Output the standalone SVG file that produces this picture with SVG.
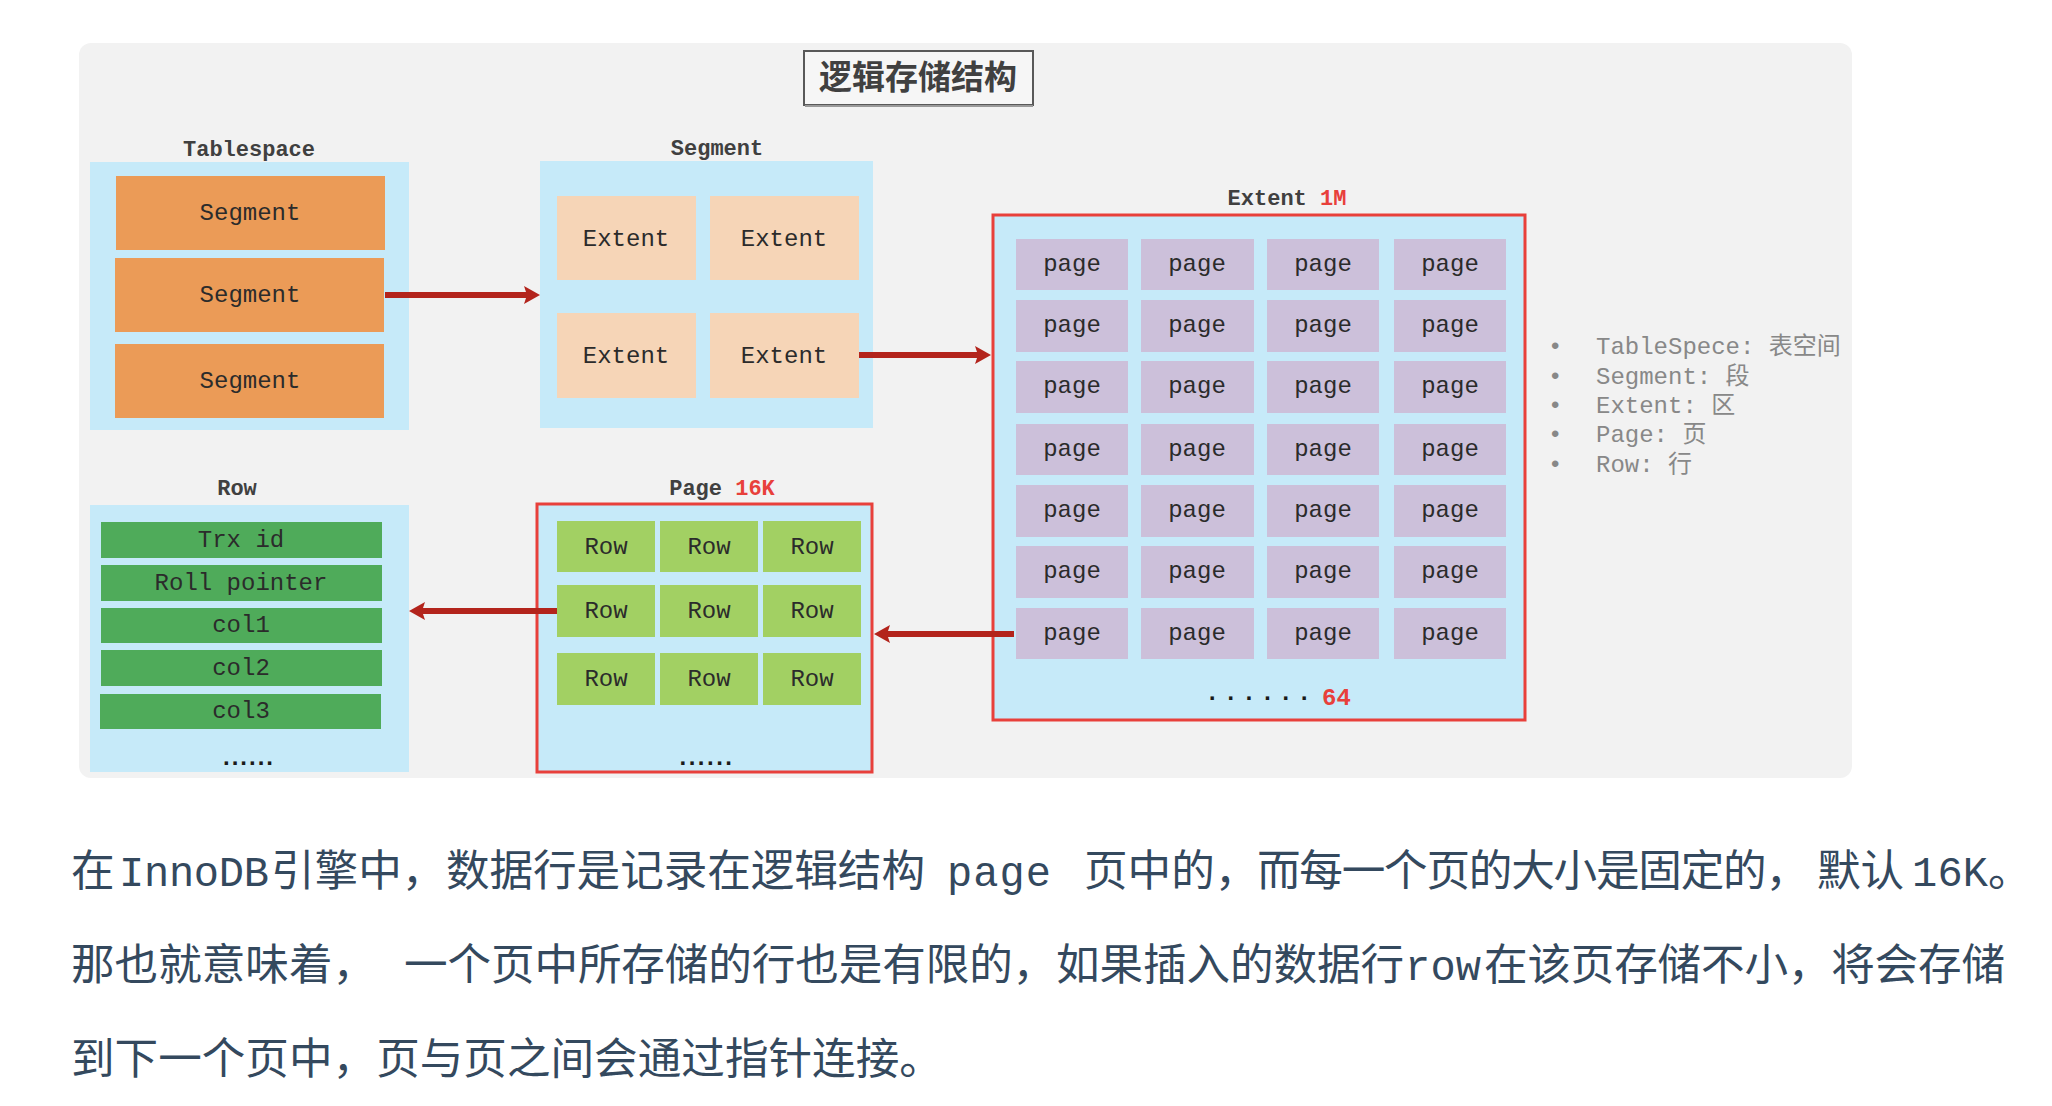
<svg xmlns="http://www.w3.org/2000/svg" width="2052" height="1106" viewBox="0 0 2052 1106">
<style>
.box{fill:#c6eaf9}
.seg{fill:#eb9b57}
.ext{fill:#f6d5b7}
.pg{fill:#ccc0da}
.col{fill:#4fab5a}
.row{fill:#a2d063}
.red{fill:none;stroke:#e8403b;stroke-width:3}
.t{font-family:"Liberation Mono",monospace;font-size:24px;fill:#2b2b2b;text-anchor:middle}
.lbl{font-family:"Liberation Mono",monospace;font-size:22px;font-weight:bold;fill:#404040;text-anchor:middle}
.rd{fill:#e8403b;font-weight:bold}
.dots{font-family:"Liberation Mono",monospace;font-size:24px;font-weight:bold;fill:#1a1a1a}
.sdots{font-family:"Liberation Sans",sans-serif;font-size:24px;font-weight:bold;fill:#1a1a1a;text-anchor:middle}
.leg{font-family:"Liberation Mono","Noto Sans CJK SC",monospace;font-size:24px;fill:#888}
.para{font-family:"Noto Sans CJK SC",sans-serif;font-size:43.6px;fill:#34495e}
.mono{font-family:"Liberation Mono",monospace;font-size:42px}
.arr{stroke:#b3241c;stroke-width:6;fill:none}
</style>
<defs>
<marker id="ah" markerUnits="userSpaceOnUse" viewBox="0 0 16 18" refX="3" refY="9" markerWidth="16" markerHeight="18" orient="auto">
<path d="M0,0 L16,9 L0,18 L3,9 z" fill="#b3241c"/>
</marker>
</defs>
<rect width="2052" height="1106" fill="#ffffff"/>
<rect id="panel" x="79" y="43" width="1773" height="735" rx="12" fill="#f2f2f2"/>

<g id="title">
<rect x="804" y="51" width="229" height="54" fill="#f6f6f6" stroke="#595959" stroke-width="2"/>
<line x1="805" y1="106" x2="1033" y2="106" stroke="#9a9a9a" stroke-width="2"/>
<text x="918" y="89" text-anchor="middle" font-family="Noto Sans CJK SC,sans-serif" font-size="33" font-weight="bold" fill="#404040">逻辑存储结构</text>
</g>

<g id="tablespace">
<text class="lbl" x="249" y="156">Tablespace</text>
<rect class="box" x="90" y="162" width="319" height="268"/>
<rect class="seg" x="116" y="176" width="269" height="74"/>
<rect class="seg" x="115" y="258" width="269" height="74"/>
<rect class="seg" x="115" y="344" width="269" height="74"/>
<text class="t" x="250" y="220">Segment</text>
<text class="t" x="250" y="302">Segment</text>
<text class="t" x="250" y="388">Segment</text>
</g>

<g id="segment">
<text class="lbl" x="717" y="155">Segment</text>
<rect class="box" x="540" y="161" width="333" height="267"/>
<rect class="ext" x="557" y="196" width="139" height="84"/>
<rect class="ext" x="710" y="196" width="149" height="84"/>
<rect class="ext" x="557" y="313" width="139" height="85"/>
<rect class="ext" x="710" y="313" width="149" height="85"/>
<text class="t" x="626" y="246">Extent</text>
<text class="t" x="784" y="246">Extent</text>
<text class="t" x="626" y="363">Extent</text>
<text class="t" x="784" y="363">Extent</text>
</g>

<g id="extent">
<text class="lbl" x="1287" y="205">Extent <tspan class="rd">1M</tspan></text>
<rect class="box" x="993" y="215" width="532" height="505"/>
<rect class="red" x="993" y="215" width="532" height="505"/>
<g>
<rect class="pg" x="1016" y="239" width="112" height="51"/><rect class="pg" x="1141" y="239" width="113" height="51"/><rect class="pg" x="1267" y="239" width="112" height="51"/><rect class="pg" x="1394" y="239" width="112" height="51"/>
<rect class="pg" x="1016" y="300" width="112" height="52"/><rect class="pg" x="1141" y="300" width="113" height="52"/><rect class="pg" x="1267" y="300" width="112" height="52"/><rect class="pg" x="1394" y="300" width="112" height="52"/>
<rect class="pg" x="1016" y="361" width="112" height="52"/><rect class="pg" x="1141" y="361" width="113" height="52"/><rect class="pg" x="1267" y="361" width="112" height="52"/><rect class="pg" x="1394" y="361" width="112" height="52"/>
<rect class="pg" x="1016" y="424" width="112" height="51"/><rect class="pg" x="1141" y="424" width="113" height="51"/><rect class="pg" x="1267" y="424" width="112" height="51"/><rect class="pg" x="1394" y="424" width="112" height="51"/>
<rect class="pg" x="1016" y="485" width="112" height="52"/><rect class="pg" x="1141" y="485" width="113" height="52"/><rect class="pg" x="1267" y="485" width="112" height="52"/><rect class="pg" x="1394" y="485" width="112" height="52"/>
<rect class="pg" x="1016" y="546" width="112" height="52"/><rect class="pg" x="1141" y="546" width="113" height="52"/><rect class="pg" x="1267" y="546" width="112" height="52"/><rect class="pg" x="1394" y="546" width="112" height="52"/>
<rect class="pg" x="1016" y="608" width="112" height="51"/><rect class="pg" x="1141" y="608" width="113" height="51"/><rect class="pg" x="1267" y="608" width="112" height="51"/><rect class="pg" x="1394" y="608" width="112" height="51"/>
</g>
<g>
<text class="t" x="1072" y="271">page</text><text class="t" x="1197" y="271">page</text><text class="t" x="1323" y="271">page</text><text class="t" x="1450" y="271">page</text>
<text class="t" x="1072" y="332">page</text><text class="t" x="1197" y="332">page</text><text class="t" x="1323" y="332">page</text><text class="t" x="1450" y="332">page</text>
<text class="t" x="1072" y="393">page</text><text class="t" x="1197" y="393">page</text><text class="t" x="1323" y="393">page</text><text class="t" x="1450" y="393">page</text>
<text class="t" x="1072" y="456">page</text><text class="t" x="1197" y="456">page</text><text class="t" x="1323" y="456">page</text><text class="t" x="1450" y="456">page</text>
<text class="t" x="1072" y="517">page</text><text class="t" x="1197" y="517">page</text><text class="t" x="1323" y="517">page</text><text class="t" x="1450" y="517">page</text>
<text class="t" x="1072" y="578">page</text><text class="t" x="1197" y="578">page</text><text class="t" x="1323" y="578">page</text><text class="t" x="1450" y="578">page</text>
<text class="t" x="1072" y="640">page</text><text class="t" x="1197" y="640">page</text><text class="t" x="1323" y="640">page</text><text class="t" x="1450" y="640">page</text>
</g>
<text class="dots" x="1205" y="700" letter-spacing="4">......</text>
<text x="1322" y="705" font-family="Liberation Mono,monospace" font-size="24" font-weight="bold" fill="#e8403b">64</text>
</g>

<g id="legend" class="leg">
<text x="1548" y="354">•</text><text x="1596" y="354">TableSpece: 表空间</text>
<text x="1548" y="384">•</text><text x="1596" y="384">Segment: 段</text>
<text x="1548" y="413">•</text><text x="1596" y="413">Extent: 区</text>
<text x="1548" y="442">•</text><text x="1596" y="442">Page: 页</text>
<text x="1548" y="472">•</text><text x="1596" y="472">Row: 行</text>
</g>

<g id="row">
<text class="lbl" x="237" y="495">Row</text>
<rect class="box" x="90" y="505" width="319" height="267"/>
<rect class="col" x="101" y="522" width="281" height="36"/>
<rect class="col" x="101" y="565" width="281" height="36"/>
<rect class="col" x="101" y="608" width="281" height="35"/>
<rect class="col" x="101" y="650" width="281" height="36"/>
<rect class="col" x="100" y="694" width="281" height="35"/>
<text class="t" x="241" y="547">Trx id</text>
<text class="t" x="241" y="590">Roll pointer</text>
<text class="t" x="241" y="632">col1</text>
<text class="t" x="241" y="675">col2</text>
<text class="t" x="241" y="718">col3</text>
<text class="sdots" x="249" y="765" font-weight="normal" letter-spacing="2">......</text>
</g>

<g id="page">
<text class="lbl" x="722" y="495">Page <tspan class="rd">16K</tspan></text>
<rect class="box" x="537" y="504" width="335" height="268"/>
<rect class="red" x="537" y="504" width="335" height="268"/>
<rect class="row" x="557" y="521" width="98" height="51"/><rect class="row" x="660" y="521" width="98" height="51"/><rect class="row" x="763" y="521" width="98" height="51"/>
<rect class="row" x="557" y="585" width="98" height="52"/><rect class="row" x="660" y="585" width="98" height="52"/><rect class="row" x="763" y="585" width="98" height="52"/>
<rect class="row" x="557" y="653" width="98" height="52"/><rect class="row" x="660" y="653" width="98" height="52"/><rect class="row" x="763" y="653" width="98" height="52"/>
<text class="t" x="606" y="554">Row</text><text class="t" x="709" y="554">Row</text><text class="t" x="812" y="554">Row</text>
<text class="t" x="606" y="618">Row</text><text class="t" x="709" y="618">Row</text><text class="t" x="812" y="618">Row</text>
<text class="t" x="606" y="686">Row</text><text class="t" x="709" y="686">Row</text><text class="t" x="812" y="686">Row</text>
<text class="sdots" x="707" y="765" letter-spacing="2.5">......</text>
</g>

<g id="connectors">
<line class="arr" x1="385" y1="295" x2="527" y2="295" marker-end="url(#ah)"/>
<line class="arr" x1="859" y1="355" x2="978" y2="355" marker-end="url(#ah)"/>
<line class="arr" x1="557" y1="611" x2="422" y2="611" marker-end="url(#ah)"/>
<line class="arr" x1="1014" y1="634" x2="887" y2="634" marker-end="url(#ah)"/>
</g>

<g id="paragraph" class="para">
<text x="71" y="886">在</text>
<text x="119" y="886" class="mono" textLength="150" lengthAdjust="spacing">InnoDB</text>
<text x="271" y="886">引擎中，</text>
<text x="446" y="886" textLength="479" lengthAdjust="spacing">数据行是记录在逻辑结构</text>
<text x="947" y="886" class="mono" textLength="104" lengthAdjust="spacing">page</text>
<text x="1084" y="886">页中的，</text>
<text x="1257" y="886" textLength="552" lengthAdjust="spacing">而每一个页的大小是固定的，</text>
<text x="1817" y="886">默认</text>
<text x="1912" y="886" class="mono" textLength="76" lengthAdjust="spacing">16K</text>
<text x="1988" y="886">。</text>
<text x="71" y="980">那也就意味着，</text>
<text x="404" y="980" textLength="1000" lengthAdjust="spacing">一个页中所存储的行也是有限的，如果插入的数据行</text>
<text x="1405" y="980" class="mono" textLength="76" lengthAdjust="spacing">row</text>
<text x="1484" y="980" textLength="521" lengthAdjust="spacing">在该页存储不小，将会存储</text>
<text x="71" y="1074">到下一个页中，页与页之间会通过指针连接。</text>
</g>
</svg>
